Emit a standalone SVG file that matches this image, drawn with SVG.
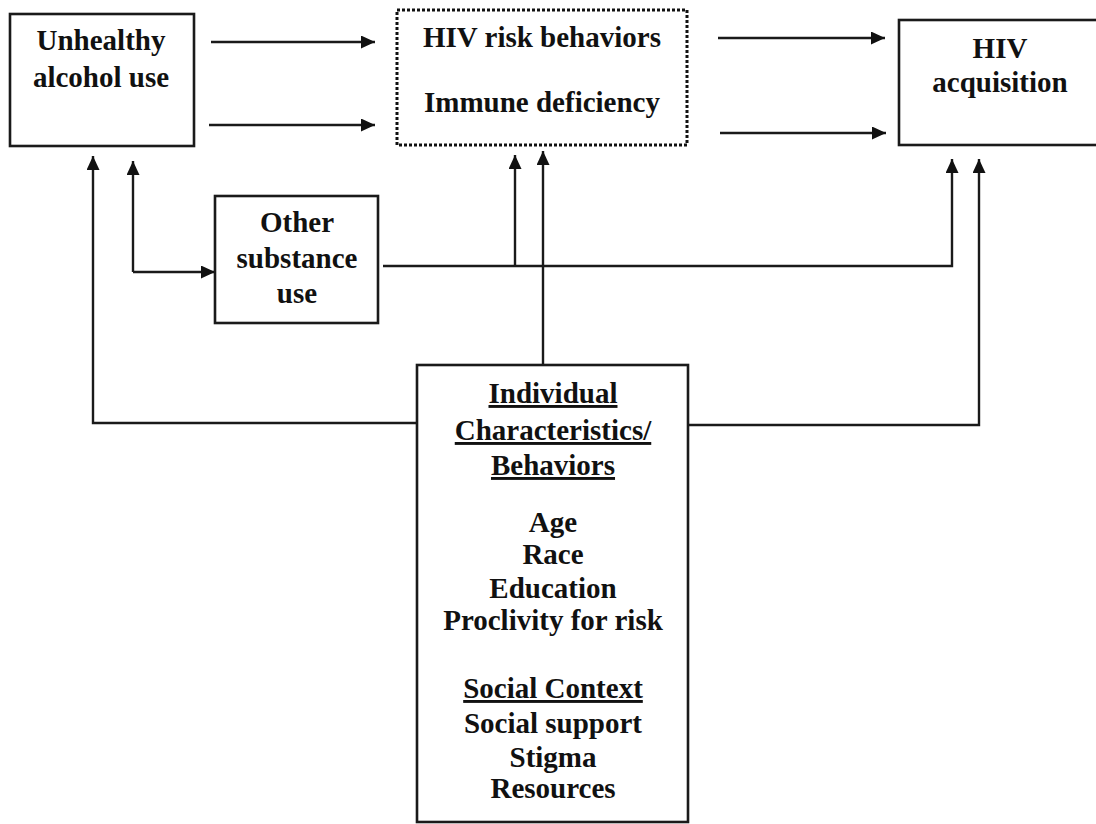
<svg xmlns="http://www.w3.org/2000/svg" width="1096" height="824" viewBox="0 0 1096 824">
<style>
  .box { fill: #ffffff; stroke: #1a1a1a; stroke-width: 2.6; }
  .dotted { fill: #ffffff; stroke: #111111; stroke-width: 3; stroke-dasharray: 3 2; }
  .lbl { font-family: "Liberation Serif", "Times New Roman", serif; font-weight: bold; font-size: 29px; fill: #111; text-anchor: middle; }
  .ul { text-decoration: underline; }
  .conn { fill: none; stroke: #1a1a1a; stroke-width: 2.4; }
</style>
<defs>
  <marker id="ah" markerWidth="14" markerHeight="13" refX="14" refY="6.5" orient="auto" markerUnits="userSpaceOnUse">
    <path d="M0,0 L14,6.5 L0,13 z" fill="#111"/>
  </marker>
</defs>
<rect width="1096" height="824" fill="#ffffff"/>

<g id="connectors">
  <line class="conn" x1="211" y1="42" x2="375" y2="42" marker-end="url(#ah)"/>
  <line class="conn" x1="209" y1="125" x2="375" y2="125" marker-end="url(#ah)"/>
  <line class="conn" x1="718" y1="38" x2="885" y2="38" marker-end="url(#ah)"/>
  <line class="conn" x1="720" y1="133" x2="886" y2="133" marker-end="url(#ah)"/>
  <polyline class="conn" points="417,423 93,423 93,156" marker-end="url(#ah)"/>
  <line class="conn" x1="133" y1="272" x2="133" y2="161" marker-end="url(#ah)"/>
  <polyline class="conn" points="133,272 215,272" marker-end="url(#ah)"/>
  <polyline class="conn" points="383,266 952,266 952,159" marker-end="url(#ah)"/>
  <line class="conn" x1="515" y1="266" x2="515" y2="155" marker-end="url(#ah)"/>
  <line class="conn" x1="543" y1="365" x2="543" y2="151" marker-end="url(#ah)"/>
  <polyline class="conn" points="688,425 979,425 979,159" marker-end="url(#ah)"/>
</g>

<g id="node-alcohol">
  <rect class="box" x="10" y="14" width="184" height="132"/>
  <text class="lbl" x="101" y="50">Unhealthy</text>
  <text class="lbl" x="101" y="87">alcohol use</text>
</g>

<g id="node-mediators">
  <rect class="dotted" x="397" y="10" width="290" height="135"/>
  <text class="lbl" x="542" y="47">HIV risk behaviors</text>
  <text class="lbl" x="542" y="112">Immune deficiency</text>
</g>

<g id="node-hiv">
  <rect class="box" x="899" y="20" width="204" height="125"/>
  <text class="lbl" x="1000" y="58">HIV</text>
  <text class="lbl" x="1000" y="92">acquisition</text>
</g>

<g id="node-other">
  <rect class="box" x="215" y="196" width="163" height="127"/>
  <text class="lbl" x="297" y="232">Other</text>
  <text class="lbl" x="297" y="268">substance</text>
  <text class="lbl" x="297" y="303">use</text>
</g>

<g id="node-individual">
  <rect class="box" x="417" y="365" width="271" height="457"/>
  <text class="lbl ul" x="553" y="403">Individual</text>
  <text class="lbl ul" x="553" y="440">Characteristics/</text>
  <text class="lbl ul" x="553" y="475">Behaviors</text>
  <text class="lbl" x="553" y="532">Age</text>
  <text class="lbl" x="553" y="564">Race</text>
  <text class="lbl" x="553" y="598">Education</text>
  <text class="lbl" x="553" y="630">Proclivity for risk</text>
  <text class="lbl ul" x="553" y="698">Social Context</text>
  <text class="lbl" x="553" y="733">Social support</text>
  <text class="lbl" x="553" y="767">Stigma</text>
  <text class="lbl" x="553" y="798">Resources</text>
</g>
</svg>
